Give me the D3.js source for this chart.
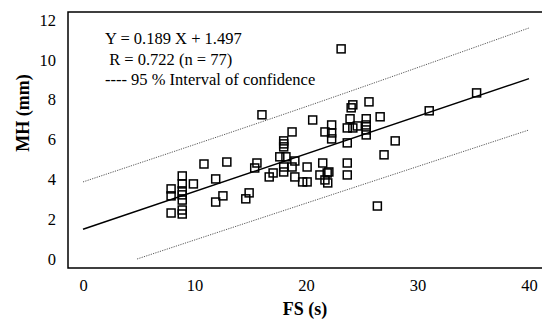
<!DOCTYPE html>
<html>
<head>
<meta charset="utf-8">
<script src="https://cdn.jsdelivr.net/npm/d3@7"></script>
<style>
  body { margin: 0; background: #fff; }
  svg { display: block; font-family: "Liberation Serif", "DejaVu Serif", serif; }
</style>
</head>
<body>
<div id="chart"></div>
<script>
const fsValues = [
  7.9, 7.9, 7.9, 8.9, 8.9, 8.9, 8.9, 8.9, 8.9, 8.9,
  9.9, 10.85, 11.9, 12.9, 11.9, 12.55, 14.6, 14.9, 15.6, 15.4,
  16.05, 16.7, 17.05, 17.65, 18.2, 18.0, 18.0, 18.0, 18.0, 18.0,
  18.75, 18.75, 19.0, 19.0, 19.7, 20.1, 20.1, 20.6, 21.5, 21.25,
  21.9, 22.05, 21.7, 21.95, 21.7, 22.3, 22.3, 22.3, 23.15, 23.7,
  24.2, 23.7, 23.7, 23.7, 23.95, 24.05, 24.2, 24.6, 25.4, 25.4,
  25.4, 25.4, 25.65, 26.65, 28.0, 27.0, 26.4, 31.05, 35.3
];
const mhValues = [
  3.52, 3.17, 2.31, 4.17, 3.77, 3.42, 3.22, 2.96, 2.46, 2.26,
  3.77, 4.77, 4.02, 4.87, 2.86, 3.17, 3.02, 3.32, 4.82, 4.57,
  7.24, 4.12, 4.32, 5.13, 5.13, 5.93, 5.78, 5.63, 4.62, 4.37,
  6.38, 4.62, 4.92, 4.12, 3.87, 3.87, 4.62, 6.98, 4.82, 4.22,
  4.32, 4.37, 3.97, 3.82, 6.38, 6.73, 6.33, 6.03, 10.55, 6.58,
  6.58, 5.83, 4.82, 4.22, 7.04, 7.59, 7.74, 6.68, 7.04, 6.73,
  6.48, 6.23, 7.89, 7.14, 5.93, 5.23, 2.66, 7.44, 8.34
];

// regression Y = 0.189 X + 1.497
const slope = 0.189;
const intercept = 1.497;
const fitRange = [0, 40];

// 95 % band
const upperBand = [[0, 3.87], [20, 7.65], [40, 11.6]];
const lowerBand = [[4.85, 0], [20, 2.8], [40, 6.48]];

const xTicks = [0, 10, 20, 30, 40];
const yTicks = [0, 2, 4, 6, 8, 10, 12];
const legendLines = [
  "Y = 0.189 X + 1.497",
  " R = 0.722 (n = 77)",
  "---- 95 % Interval of confidence"
];

const width = 542, height = 320;
const frame = { left: 68, top: 12, bottom: 268, right: 542 };

const svg = d3.select("#chart").append("svg")
  .attr("width", width)
  .attr("height", height);

const x = d3.scaleLinear().domain([0, 40]).range([83, 529]);
const y = d3.scaleLinear().domain([0, 12]).range([259, 20]);

// frame
svg.append("path")
  .attr("d", `M${frame.right},${frame.top}H${frame.left}V${frame.bottom}H${frame.right}`)
  .attr("fill", "none")
  .attr("stroke", "#000")
  .attr("stroke-width", 1.5);

// axes (no tick marks)
const xAxis = svg.append("g")
  .attr("transform", `translate(0,${frame.bottom})`)
  .call(d3.axisBottom(x).tickValues(xTicks).tickSize(0).tickPadding(11));
xAxis.select(".domain").remove();
xAxis.selectAll("text")
  .style("font-family", "Liberation Serif")
  .style("font-size", "16.5px")
  .attr("fill", "#000");

const yAxis = svg.append("g")
  .attr("transform", `translate(${frame.left},0)`)
  .call(d3.axisLeft(y).tickValues(yTicks).tickSize(0).tickPadding(12));
yAxis.select(".domain").remove();
yAxis.selectAll("text")
  .style("font-family", "Liberation Serif")
  .style("font-size", "16.5px")
  .attr("fill", "#000");

// axis titles
svg.append("text")
  .attr("x", 305)
  .attr("y", 315)
  .attr("text-anchor", "middle")
  .style("font-size", "18px")
  .style("font-weight", "bold")
  .text("FS (s)");

svg.append("text")
  .attr("transform", "translate(29,113) rotate(-90)")
  .attr("text-anchor", "middle")
  .style("font-size", "18px")
  .style("font-weight", "bold")
  .text("MH (mm)");

// confidence band lines
const bandLine = d3.line()
  .x((d) => x(d[0]))
  .y((d) => y(d[1]))
  .curve(d3.curveMonotoneX);

[upperBand, lowerBand].forEach((band) => {
  svg.append("path")
    .attr("d", bandLine(band))
    .attr("fill", "none")
    .attr("stroke", "#444")
    .attr("stroke-width", 0.9)
    .attr("stroke-dasharray", "1.2,1.2");
});

// regression line
svg.append("line")
  .attr("x1", x(fitRange[0]))
  .attr("y1", y(intercept + slope * fitRange[0]))
  .attr("x2", x(fitRange[1]))
  .attr("y2", y(intercept + slope * fitRange[1]))
  .attr("stroke", "#000")
  .attr("stroke-width", 1.5);

// points
const points = fsValues.map((v, i) => ({ fs: v, mh: mhValues[i] }));
const s = 8;
svg.append("g")
  .selectAll("rect")
  .data(points)
  .enter()
  .append("rect")
  .attr("x", (d) => x(d.fs) - s / 2)
  .attr("y", (d) => y(d.mh) - s / 2)
  .attr("width", s)
  .attr("height", s)
  .attr("fill", "none")
  .attr("stroke", "#000")
  .attr("stroke-width", 1.5);

// legend text
svg.append("g")
  .selectAll("text")
  .data(legendLines)
  .enter()
  .append("text")
  .attr("x", 105)
  .attr("y", (d, i) => 44 + i * 20.5)
  .attr("xml:space", "preserve")
  .style("font-size", "16.5px")
  .style("white-space", "pre")
  .text((d) => d);
</script>
</body>
</html>
